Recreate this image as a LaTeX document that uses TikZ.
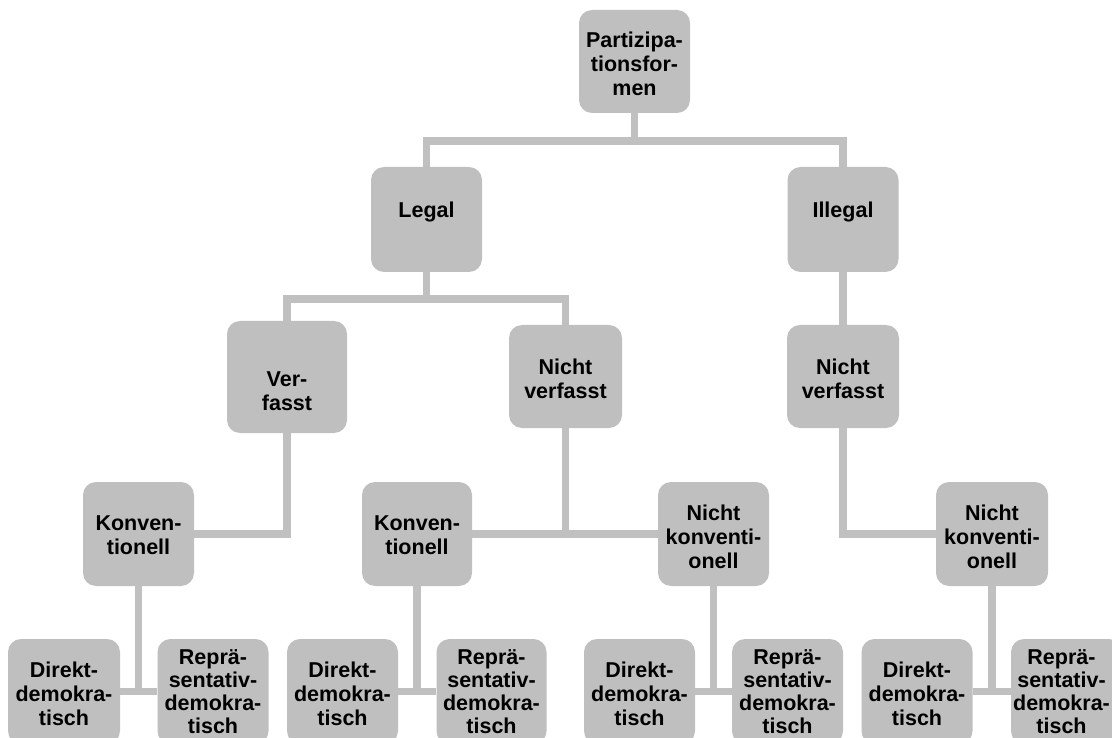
\documentclass[tikz,border=0pt]{standalone}
\usepackage{fontspec}
\setmainfont{Liberation Sans}
\definecolor{boxgray}{HTML}{BFBFBF}
\definecolor{linegray}{HTML}{C0C0C0}

\begin{document}
\begin{tikzpicture}[x=1pt,y=-1pt,
  box/.style={fill=boxgray, rounded corners=13pt, inner sep=0pt,
    minimum width=111pt, minimum height=105pt},
  lbl/.style={align=center, inner sep=0pt, text=black,
    font=\bfseries\fontsize{21.5}{24}\selectfont},
  lbltight/.style={lbl, font=\bfseries\fontsize{21.5}{23}\selectfont},
  conn/.style={draw=linegray, line width=7.5pt}]
\useasboundingbox (0,0) rectangle (1112,738);
\clip (0,0) rectangle (1112,738);

% level 1
\node[box, minimum height=103pt] (root) at (634.5,61.5) {};
% level 2
\node[box] (legal)   at (426.5,219.5) {};
\node[box] (illegal) at (843,219.5) {};
% level 3
\node[box, minimum width=120pt, minimum height=112pt] (verf) at (287,377) {};
\node[box, minimum width=113pt, minimum height=103pt] (nv1) at (565.5,376.5) {};
\node[box, minimum width=112pt, minimum height=103pt] (nv2) at (843,376.5) {};
% level 4
\node[box, minimum height=104pt] (konv1) at (138.5,534) {};
\node[box, minimum width=110pt, minimum height=104pt] (konv2) at (417,534) {};
\node[box, minimum height=104pt] (nk1) at (713.5,534) {};
\node[box, minimum width=112pt, minimum height=104pt] (nk2) at (992,534) {};
% level 5
\node[box, minimum width=112pt] (d1) at (64,691.5) {};
\node[box] (r1) at (213,691.5) {};
\node[box] (d2) at (342.5,691.5) {};
\node[box, minimum width=110pt] (r2) at (491.5,691.5) {};
\node[box] (d3) at (639.5,691.5) {};
\node[box] (r3) at (787.5,691.5) {};
\node[box] (d4) at (917,691.5) {};
\node[box] (r4) at (1066.5,691.5) {};

% labels
\node[lbl] (root-t) at (634.5,64) {Partizipa-\\tionsfor-\\men};
\node[lbl, anchor=base] (legal-t) at (426.5,217.7) {Legal};
\node[lbl, anchor=base] (illegal-t) at (843,217.7) {Illegal};
\node[lbl] (verf-t) at (287,391.5) {Ver-\\fasst};
\node[lbl] (nv1-t) at (565.5,379) {Nicht\\verfasst};
\node[lbl] (nv2-t) at (843,379) {Nicht\\verfasst};
\node[lbl] (konv1-t) at (138.5,535.5) {Konven-\\tionell};
\node[lbl] (konv2-t) at (417,535.5) {Konven-\\tionell};
\node[lbl] (nk1-t) at (713.5,537) {Nicht\\konventi-\\onell};
\node[lbl] (nk2-t) at (992,537) {Nicht\\konventi-\\onell};
\node[lbl] (d1-t) at (64,693.5) {Direkt-\\demokra-\\tisch};
\node[lbltight] (r1-t) at (213,691.5) {Reprä-\\sentativ-\\demokra-\\tisch};
\node[lbl] (d2-t) at (342.5,693.5) {Direkt-\\demokra-\\tisch};
\node[lbltight] (r2-t) at (491.5,691.5) {Reprä-\\sentativ-\\demokra-\\tisch};
\node[lbl] (d3-t) at (639.5,693.5) {Direkt-\\demokra-\\tisch};
\node[lbltight] (r3-t) at (787.5,691.5) {Reprä-\\sentativ-\\demokra-\\tisch};
\node[lbl] (d4-t) at (917,693.5) {Direkt-\\demokra-\\tisch};
\node[lbltight] (r4-t) at (1061.5,691.5) {Reprä-\\sentativ-\\demokra-\\tisch};

% connectors
\draw[conn] (root.south) -- ++(0,28);
\draw[conn] (legal.north) -- ++(0,-26) -| (illegal.north);
\draw[conn] (legal.south) -- ++(0,27);
\draw[conn] (verf.north) -- ++(0,-22) -| (nv1.north);
\draw[conn] (illegal.south) -- (nv2.north);
\draw[conn] (verf.south) |- (konv1.east);
\draw[conn] (nv1.south) -- (nv1.south |- konv2.east);
\draw[conn] (konv2.east) -- (nk1.west);
\draw[conn] (nv2.south) |- (nk2.west);
\draw[conn] (konv1.south) -- (konv1.south |- d1.east);
\draw[conn] (d1.east) -- (r1.west);
\draw[conn] (konv2.south) -- (konv2.south |- d2.east);
\draw[conn] (d2.east) -- (r2.west);
\draw[conn] (nk1.south) -- (nk1.south |- d3.east);
\draw[conn] (d3.east) -- (r3.west);
\draw[conn] (nk2.south) -- (nk2.south |- d4.east);
\draw[conn] (d4.east) -- (r4.west);
\end{tikzpicture}
\end{document}
